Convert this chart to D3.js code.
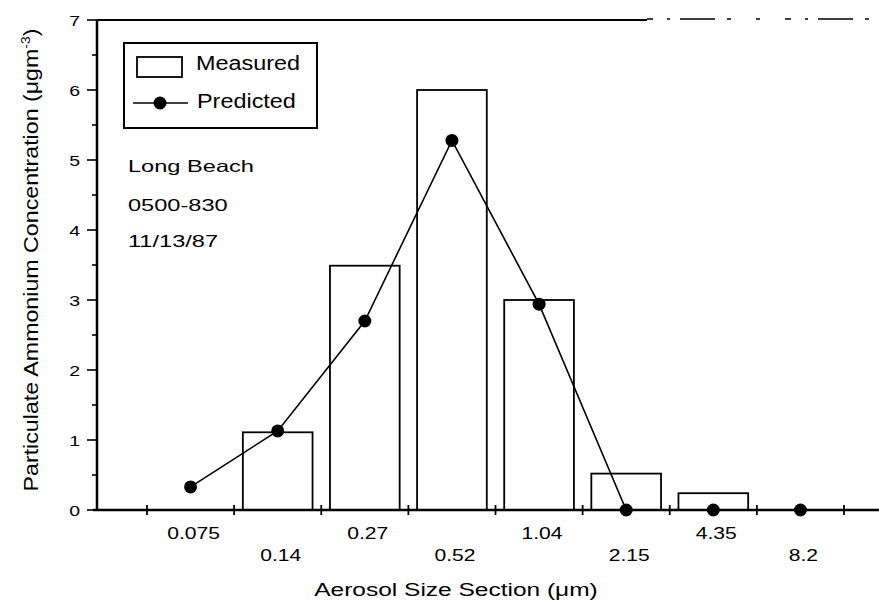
<!DOCTYPE html>
<html>
<head>
<meta charset="utf-8">
<script src="https://cdn.jsdelivr.net/npm/d3@7"></script>
<style>
  body { margin: 0; background: #fff; }
  svg { display: block; }
  text { font-family: Arial, "Liberation Sans", sans-serif; fill: #000; }
</style>
</head>
<body>
<svg width="879" height="605"></svg>
<script>
// size sections (um) and concentrations
var sections = ['0.075', '0.14', '0.27', '0.52', '1.04', '2.15', '4.35', '8.2'];
var measured = [0, 1.11, 3.49, 6.0, 3.0, 0.52, 0.24, 0];
var predicted = [0.33, 1.13, 2.70, 5.28, 2.94, 0, 0, 0];
var yTicks = [0, 1, 2, 3, 4, 5, 6, 7];
var notes = ['Long Beach', '0500-830', '11/13/87'];

var svg = d3.select('svg');

var x = d3.scaleBand()
    .domain(sections)
    .range([147, 844])
    .padding(0);

var y = d3.scaleLinear()
    .domain([0, 7])
    .range([510, 20]);

// stretch text horizontally like the scanned figure
function stretch(sel, k) {
  sel.each(function() {
    var w = this.getComputedTextLength();
    d3.select(this).attr('textLength', w * k).attr('lengthAdjust', 'spacingAndGlyphs');
  });
}

// bars
svg.selectAll('rect.bar')
    .data(sections.filter(function(d, i) { return measured[i] > 0; }))
    .enter().append('rect')
    .attr('class', 'bar')
    .attr('x', function(d) { return x(d) + x.bandwidth() * 0.1; })
    .attr('width', x.bandwidth() * 0.8)
    .attr('y', function(d) { return y(measured[sections.indexOf(d)]); })
    .attr('height', function(d) { return y(0) - y(measured[sections.indexOf(d)]); })
    .attr('fill', 'none')
    .attr('stroke', '#000')
    .attr('stroke-width', 1.8);

// predicted line + points
var line = d3.line()
    .x(function(d, i) { return x(sections[i]) + x.bandwidth() / 2; })
    .y(function(d) { return y(d); });

svg.append('path')
    .datum(predicted)
    .attr('d', line)
    .attr('fill', 'none')
    .attr('stroke', '#000')
    .attr('stroke-width', 1.6);

svg.selectAll('circle.pt')
    .data(predicted)
    .enter().append('circle')
    .attr('class', 'pt')
    .attr('cx', function(d, i) { return x(sections[i]) + x.bandwidth() / 2; })
    .attr('cy', function(d) { return y(d); })
    .attr('r', 6.5)
    .attr('fill', '#000');

// x axis line and ticks at section boundaries
svg.append('path')
    .attr('d', 'M93,' + y(0) + ' L879,' + y(0))
    .attr('stroke', '#000')
    .attr('stroke-width', 2.5);

var bounds = sections.map(function(d) { return x(d); }).concat([x.range()[1]]);
svg.selectAll('line.xtick')
    .data(bounds)
    .enter().append('line')
    .attr('class', 'xtick')
    .attr('x1', function(d) { return d; })
    .attr('x2', function(d) { return d; })
    .attr('y1', y(0) - 5)
    .attr('y2', y(0) + 5)
    .attr('stroke', '#000')
    .attr('stroke-width', 1.8);

svg.selectAll('text.xlab')
    .data(sections)
    .enter().append('text')
    .attr('class', 'xlab')
    .attr('x', function(d) { return x(d) + x.bandwidth() / 2 + 3; })
    .attr('y', function(d, i) { return i % 2 === 0 ? 539 : 561; })
    .attr('text-anchor', 'middle')
    .style('font-size', '17px')
    .text(function(d) { return d; })
    .call(stretch, 1.24);

// y axis
svg.append('path')
    .attr('d', 'M97,' + y(7) + ' L97,' + y(0))
    .attr('stroke', '#000')
    .attr('stroke-width', 2.5);

svg.selectAll('line.ytick')
    .data(d3.range(0, 7.01, 0.5))
    .enter().append('line')
    .attr('class', 'ytick')
    .attr('x1', function(d) { return d % 1 === 0 ? 87 : 92; })
    .attr('x2', 97)
    .attr('y1', function(d) { return y(d); })
    .attr('y2', function(d) { return y(d); })
    .attr('stroke', '#000')
    .attr('stroke-width', 1.6);

svg.selectAll('text.ylab')
    .data(yTicks)
    .enter().append('text')
    .attr('class', 'ylab')
    .attr('x', 80)
    .attr('y', function(d) { return y(d) + 5.5; })
    .attr('text-anchor', 'end')
    .style('font-size', '15px')
    .text(function(d) { return d; })
    .call(stretch, 1.3);

// top frame line (broken in the scan towards the right)
svg.append('path')
    .attr('d', 'M97,' + y(7) + ' L647,' + y(7))
    .attr('stroke', '#000')
    .attr('stroke-width', 1.8);
svg.append('path')
    .attr('d', 'M647,' + (y(7) - 1) + ' L879,' + (y(7) - 1))
    .attr('stroke', '#000')
    .attr('stroke-width', 1.5)
    .attr('stroke-dasharray', '6,14,3,10,35,12,4,25,4,25');

// axis titles
svg.append('text')
    .attr('x', 456)
    .attr('y', 596)
    .attr('text-anchor', 'middle')
    .style('font-size', '18px')
    .text('Aerosol Size Section (\u03bcm)')
    .call(stretch, 1.36);

var yt = svg.append('text')
    .attr('transform', 'translate(38,260) rotate(-90)')
    .attr('text-anchor', 'middle')
    .style('font-size', '20px');
yt.append('tspan').text('Particulate Ammonium Concentration (\u03bcgm');
yt.append('tspan').attr('dy', -8).style('font-size', '12px').text('-3');
yt.append('tspan').attr('dy', 8).text(')');
yt.call(stretch, 1.16);

// legend
svg.append('rect')
    .attr('x', 124).attr('y', 43)
    .attr('width', 193).attr('height', 85)
    .attr('fill', 'none')
    .attr('stroke', '#000')
    .attr('stroke-width', 2);
svg.append('rect')
    .attr('x', 137).attr('y', 57)
    .attr('width', 45).attr('height', 20)
    .attr('fill', 'none')
    .attr('stroke', '#000')
    .attr('stroke-width', 1.8);
svg.append('line')
    .attr('x1', 133).attr('x2', 188)
    .attr('y1', 103).attr('y2', 103)
    .attr('stroke', '#000')
    .attr('stroke-width', 1.6);
svg.append('circle')
    .attr('cx', 160).attr('cy', 103).attr('r', 6.5)
    .attr('fill', '#000');
svg.append('text')
    .attr('x', 196).attr('y', 70)
    .style('font-size', '19.5px')
    .text('Measured')
    .call(stretch, 1.2);
svg.append('text')
    .attr('x', 197).attr('y', 108)
    .style('font-size', '19.5px')
    .text('Predicted')
    .call(stretch, 1.2);

// site notes
svg.selectAll('text.note')
    .data(notes)
    .enter().append('text')
    .attr('class', 'note')
    .attr('x', 128)
    .attr('y', function(d, i) { return [172, 211, 247][i]; })
    .style('font-size', '16.5px')
    .text(function(d) { return d; })
    .call(stretch, 1.43);
</script>
</body>
</html>
